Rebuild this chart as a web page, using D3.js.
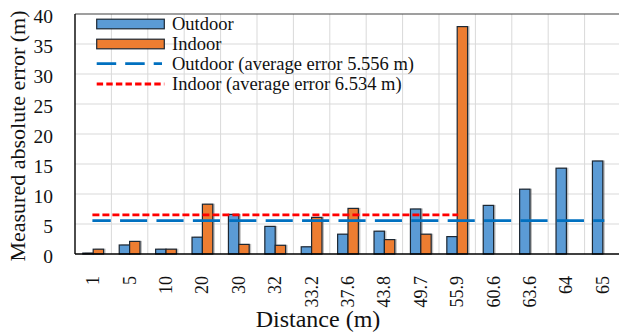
<!DOCTYPE html>
<html>
<head>
<meta charset="utf-8">
<script src="https://cdn.jsdelivr.net/npm/d3@7/dist/d3.min.js"></script>
<style>
  html, body { margin: 0; padding: 0; background: #fff; }
  svg { display: block; }
  svg text { font-family: "Liberation Serif", Tinos, "Times New Roman", Times, "Nimbus Roman", "DejaVu Serif", serif !important; fill: #111; }
</style>
</head>
<body>
<svg id="chart" width="619" height="334"></svg>
<script>
// Measured absolute error per distance, outdoor vs indoor
const distances = ["1", "5", "10", "20", "30", "32", "33.2", "37.6", "43.8", "49.7", "55.9", "60.6", "63.6", "64", "65"];
const outdoorError = [0.15, 1.5, 0.8, 2.8, 6.6, 4.6, 1.2, 3.3, 3.8, 7.5, 2.9, 8.1, 10.8, 14.3, 15.5];
const indoorError = [0.8, 2.1, 0.8, 8.3, 1.6, 1.45, 6.1, 7.6, 2.4, 3.3, 37.9, null, null, null, null];
const outdoorAverage = 5.556;
const indoorAverage = 6.534;
const yTicks = [0, 5, 10, 15, 20, 25, 30, 35, 40];
const seriesNames = ["Outdoor", "Indoor"];
const averageLabels = ["Outdoor (average error 5.556 m)", "Indoor (average error 6.534 m)"];

const colors = { outdoor: "#5B9BD5", indoor: "#ED7D31", outdoorAvg: "#0070C0", indoorAvg: "#FF0000" };

const svg = d3.select("#chart");
const plot = { left: 75, right: 621, top: 14, bottom: 254 };

const x = d3.scaleBand().domain(distances).range([plot.left, plot.right]).padding(0);
const y = d3.scaleLinear().domain([0, 40]).range([plot.bottom, plot.top]);
const step = x.bandwidth();
const barW = step * 0.285;

// grid
const grid = svg.append("g");
grid.selectAll("line.h").data(yTicks.slice(1, -1)).join("line")
  .attr("x1", plot.left).attr("x2", plot.right)
  .attr("y1", d => y(d)).attr("y2", d => y(d))
  .attr("stroke", "#d9d9d9").attr("stroke-width", 1);
grid.selectAll("line.v").data(distances.slice(1)).join("line")
  .attr("x1", d => x(d)).attr("x2", d => x(d))
  .attr("y1", plot.top).attr("y2", plot.bottom)
  .attr("stroke", "#d9d9d9").attr("stroke-width", 1);

// bars (with a soft gray shadow to the right)
const rows = distances.map((d, i) => ({ d, outdoor: outdoorError[i], indoor: indoorError[i] }));
const bars = svg.append("g");
function drawBars(key, offset, fill) {
  const data = rows.filter(r => r[key] != null);
  const xPos = r => x(r.d) + step / 2 + offset;
  bars.append("g").selectAll("rect").data(data).join("rect")
    .attr("x", r => xPos(r) + 2).attr("y", r => y(r[key]) - 0.5)
    .attr("width", barW).attr("height", r => plot.bottom - y(r[key]) + 0.5)
    .attr("fill", "#8c8c8c").attr("opacity", 0.55);
  bars.append("g").selectAll("rect").data(data).join("rect")
    .attr("x", r => xPos(r)).attr("y", r => y(r[key]))
    .attr("width", barW).attr("height", r => plot.bottom - y(r[key]))
    .attr("fill", fill).attr("stroke", "#1c2733").attr("stroke-width", 1.2);
}
drawBars("outdoor", -barW, colors.outdoor);
drawBars("indoor", 0, colors.indoor);

// average lines
const outdoorSpan = distances;
const indoorSpan = distances.filter((d, i) => indoorError[i] != null);
svg.append("line")
  .attr("x1", x(outdoorSpan[0]) + step / 2 - 0.8).attr("x2", x(outdoorSpan[outdoorSpan.length - 1]) + step / 2 + 1.5)
  .attr("y1", y(outdoorAverage)).attr("y2", y(outdoorAverage))
  .attr("stroke", colors.outdoorAvg).attr("stroke-width", 2.8)
  .attr("stroke-dasharray", `${step * 0.745} ${step * 0.255}`)
  .attr("stroke-dashoffset", step * 0.24);
svg.append("line")
  .attr("x1", x(indoorSpan[0]) + step / 2 - 0.8).attr("x2", x(indoorSpan[indoorSpan.length - 1]) + step / 2 + 1)
  .attr("y1", y(indoorAverage)).attr("y2", y(indoorAverage))
  .attr("stroke", colors.indoorAvg).attr("stroke-width", 2.8)
  .attr("stroke-dasharray", "7 3");

// frame
svg.append("line").attr("x1", plot.left).attr("x2", plot.right).attr("y1", plot.top).attr("y2", plot.top)
  .attr("stroke", "#404040").attr("stroke-width", 1.2);
svg.append("line").attr("x1", plot.left).attr("x2", plot.left).attr("y1", plot.top).attr("y2", plot.bottom)
  .attr("stroke", "#000").attr("stroke-width", 1.4);
svg.append("line").attr("x1", plot.left).attr("x2", plot.right).attr("y1", plot.bottom).attr("y2", plot.bottom)
  .attr("stroke", "#000").attr("stroke-width", 1.6);

// y axis labels
const yAxis = svg.append("g").attr("transform", `translate(${plot.left},0)`)
  .call(d3.axisLeft(y).tickValues(yTicks).tickSize(0).tickPadding(22));
yAxis.attr("font-family", null).attr("font-size", null);
yAxis.select(".domain").remove();
yAxis.selectAll("text")
  .attr("font-size", 19.5).attr("fill", "#111")
  .attr("dy", "0.42em");

// x axis labels, rotated
const xAxis = svg.append("g").attr("transform", `translate(0,${plot.bottom})`)
  .call(d3.axisBottom(x).tickSize(0).tickPadding(0));
xAxis.attr("font-family", null).attr("font-size", null);
xAxis.select(".domain").remove();
xAxis.selectAll("text")
  .attr("font-size", 18).attr("fill", "#111")
  .attr("text-anchor", "end").attr("dominant-baseline", "central")
  .attr("transform", "translate(0,22) rotate(-90)")
  .attr("x", 0).attr("y", 0).attr("dy", null);

// axis titles
svg.append("text").attr("x", 318).attr("y", 327)
  .attr("text-anchor", "middle").attr("font-size", 24).text("Distance (m)");
svg.append("text").attr("transform", "translate(17.5,136) rotate(-90)")
  .attr("text-anchor", "middle").attr("dominant-baseline", "central")
  .attr("font-size", 22).text("Measured absolute error (m)");

// legend
const legend = svg.append("g");
const lx0 = 96.7, lx1 = 164.3, tx = 172;
const rowY = [24, 44, 63.7, 84];
[colors.outdoor, colors.indoor].forEach((c, i) => {
  legend.append("rect").attr("x", lx0).attr("y", rowY[i] - 4.8)
    .attr("width", lx1 - lx0).attr("height", 9.6)
    .attr("fill", c).attr("stroke", "#1c2733").attr("stroke-width", 1.2);
  legend.append("text").attr("x", tx).attr("y", rowY[i]).attr("dominant-baseline", "central")
    .attr("font-size", 18.5).text(seriesNames[i]);
});
legend.append("line").attr("x1", lx0).attr("x2", 162).attr("y1", rowY[2]).attr("y2", rowY[2])
  .attr("stroke", colors.outdoorAvg).attr("stroke-width", 2.8).attr("stroke-dasharray", "19.5 9");
legend.append("line").attr("x1", lx0).attr("x2", lx1).attr("y1", rowY[3]).attr("y2", rowY[3])
  .attr("stroke", colors.indoorAvg).attr("stroke-width", 2.8).attr("stroke-dasharray", "6.4 3.2");
averageLabels.forEach((t, i) => {
  legend.append("text").attr("x", tx).attr("y", rowY[i + 2]).attr("dominant-baseline", "central")
    .attr("font-size", 18.5).text(t);
});
</script>
</body>
</html>
